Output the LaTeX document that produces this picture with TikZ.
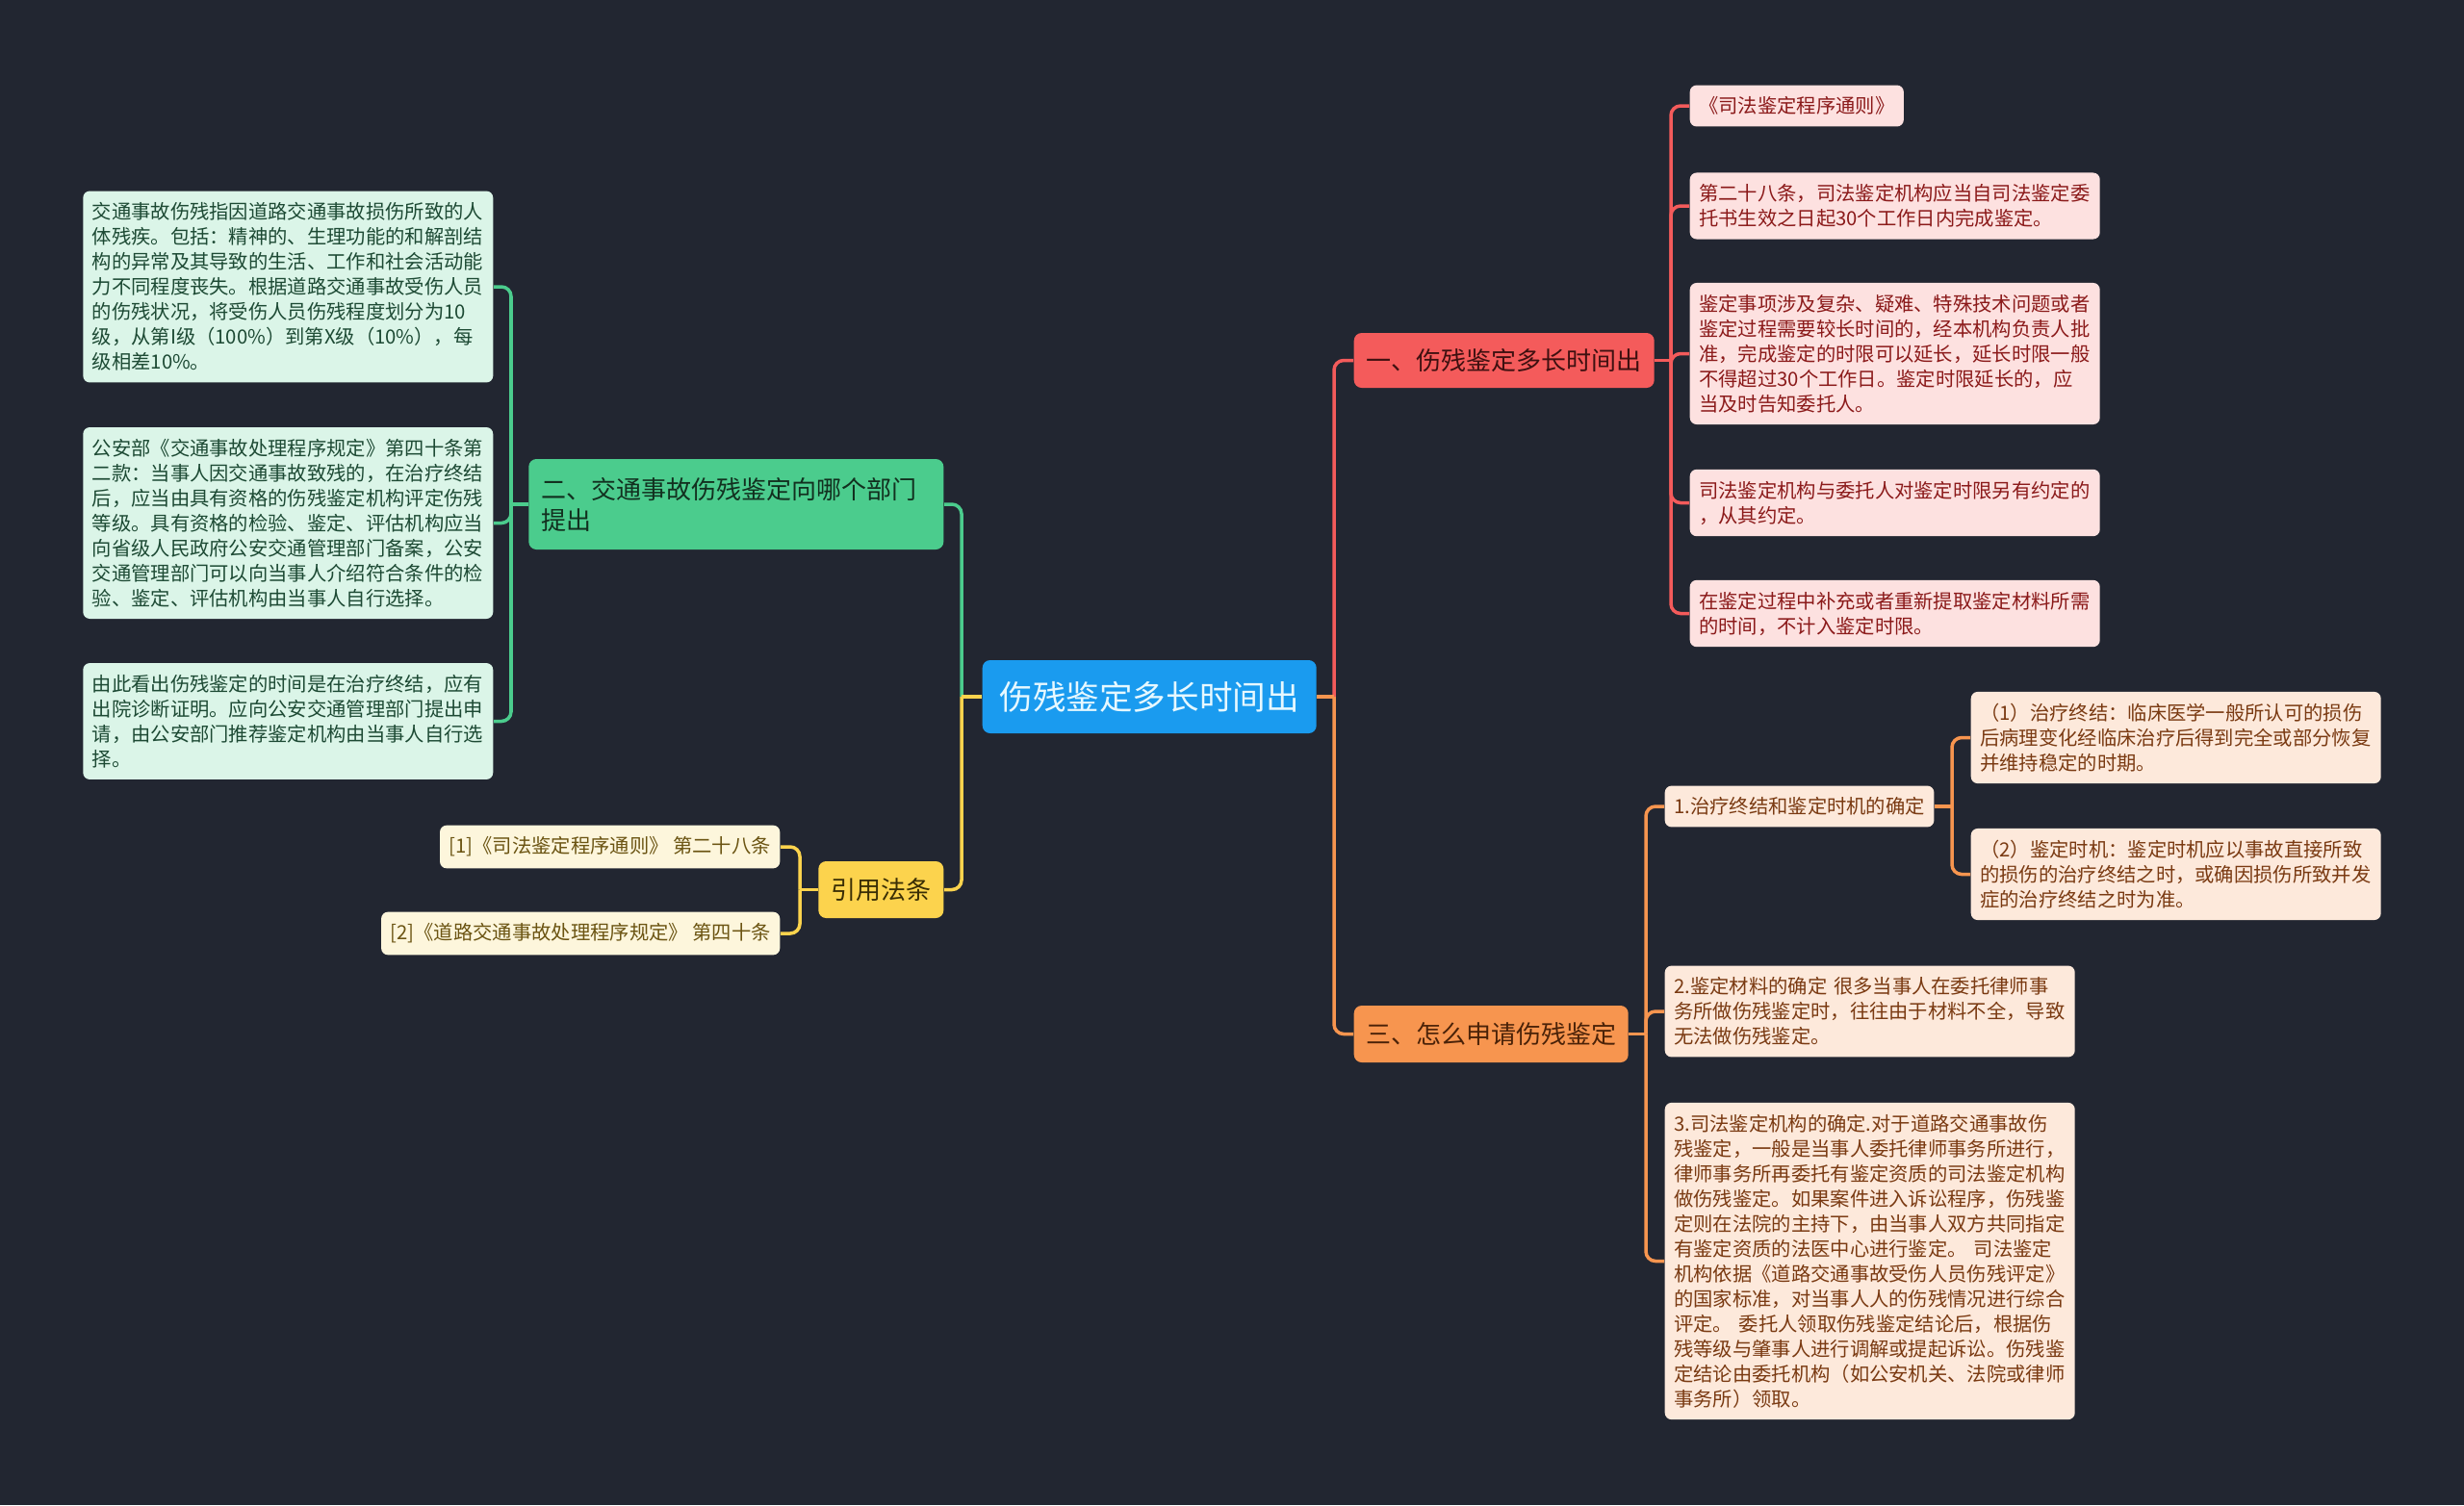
\documentclass[tikz,border=0pt]{standalone}
\usepackage{fontspec}
\setmainfont{Noto Sans CJK SC}
\usetikzlibrary{positioning}

\definecolor{bgnavy}{HTML}{222631}
\definecolor{rootblue}{HTML}{1A9BEF}
\definecolor{roottext}{HTML}{E6F8FF}
\definecolor{redbr}{HTML}{F45B5B}
\definecolor{redbrtext}{HTML}{3E1010}
\definecolor{redleaf}{HTML}{FDE1E0}
\definecolor{redtext}{HTML}{8B1A1A}
\definecolor{greenbr}{HTML}{4BCC8D}
\definecolor{greenbrtext}{HTML}{12301F}
\definecolor{greenleaf}{HTML}{DBF5E8}
\definecolor{greentext}{HTML}{1D4A34}
\definecolor{yellowbr}{HTML}{FCD34D}
\definecolor{yellowbrtext}{HTML}{3A2E05}
\definecolor{yellowleaf}{HTML}{FDF6DC}
\definecolor{yellowtext}{HTML}{6B5412}
\definecolor{orangebr}{HTML}{F7954F}
\definecolor{orangebrtext}{HTML}{4A2208}
\definecolor{orangeleaf}{HTML}{FDE9DB}
\definecolor{orangetext}{HTML}{7A3A12}

\begin{document}
\begin{tikzpicture}[
    branch/.style={rectangle, rounded corners=0.08cm, inner sep=0pt, font=\fontsize{7.4pt}{9.1pt}\selectfont},
    leafbox/.style={rectangle, rounded corners=0.07cm, inner xsep=0.095cm, inner ysep=0.12cm, align=left, font=\fontsize{5.78pt}{7.4pt}\selectfont},
    longleaf/.style={leafbox, text width=4.07cm},
    link/.style={line width=1pt, rounded corners=0.1cm}
]
\fill[bgnavy] (0,0) rectangle (25.6,-15.64);

\node[branch, fill=rootblue, text=roottext, minimum width=3.47cm, minimum height=0.76cm, font=\fontsize{9.84pt}{11pt}\selectfont, anchor=west] (root) at (10.20,-7.24) {伤残鉴定多长时间出};

\node[branch, fill=redbr, text=redbrtext, minimum width=3.12cm, minimum height=0.57cm, anchor=west] (b1) at (14.06,-3.745) {一、伤残鉴定多长时间出};
\node[branch, fill=greenbr, text=greenbrtext, minimum width=4.31cm, minimum height=0.94cm, text width=4.05cm, align=left, anchor=east] (b2) at (9.81,-5.24) {二、交通事故伤残鉴定向哪个部门\\提出};
\node[branch, fill=orangebr, text=orangebrtext, minimum width=2.85cm, minimum height=0.59cm, anchor=west] (b3) at (14.06,-10.745) {三、怎么申请伤残鉴定};
\node[branch, fill=yellowbr, text=yellowbrtext, minimum width=1.30cm, minimum height=0.59cm, anchor=east] (b4) at (9.81,-9.245) {引用法条};

\node[leafbox, fill=redleaf, text=redtext, anchor=west] (r1) at (17.55,-1.10) {《司法鉴定程序通则》};
\node[longleaf, fill=redleaf, text=redtext, anchor=west] (r2) at (17.55,-2.14) {第二十八条，司法鉴定机构应当自司法鉴定委\\托书生效之日起30个工作日内完成鉴定。};
\node[longleaf, fill=redleaf, text=redtext, anchor=west] (r3) at (17.55,-3.675) {鉴定事项涉及复杂、疑难、特殊技术问题或者\\鉴定过程需要较长时间的，经本机构负责人批\\准，完成鉴定的时限可以延长，延长时限一般\\不得超过30个工作日。鉴定时限延长的，应\\当及时告知委托人。};
\node[longleaf, fill=redleaf, text=redtext, anchor=west] (r4) at (17.55,-5.225) {司法鉴定机构与委托人对鉴定时限另有约定的\\，从其约定。};
\node[longleaf, fill=redleaf, text=redtext, anchor=west] (r5) at (17.55,-6.375) {在鉴定过程中补充或者重新提取鉴定材料所需\\的时间，不计入鉴定时限。};

\node[longleaf, fill=greenleaf, text=greentext, anchor=east] (g1) at (5.13,-2.98) {交通事故伤残指因道路交通事故损伤所致的人\\体残疾。包括：精神的、生理功能的和解剖结\\构的异常及其导致的生活、工作和社会活动能\\力不同程度丧失。根据道路交通事故受伤人员\\的伤残状况，将受伤人员伤残程度划分为10\\级，从第I级（100\%）到第X级（10\%），每\\级相差10\%。};
\node[longleaf, fill=greenleaf, text=greentext, anchor=east] (g2) at (5.13,-5.435) {公安部《交通事故处理程序规定》第四十条第\\二款：当事人因交通事故致残的，在治疗终结\\后，应当由具有资格的伤残鉴定机构评定伤残\\等级。具有资格的检验、鉴定、评估机构应当\\向省级人民政府公安交通管理部门备案，公安\\交通管理部门可以向当事人介绍符合条件的检\\验、鉴定、评估机构由当事人自行选择。};
\node[longleaf, fill=greenleaf, text=greentext, anchor=east] (g3) at (5.13,-7.495) {由此看出伤残鉴定的时间是在治疗终结，应有\\出院诊断证明。应向公安交通管理部门提出申\\请，由公安部门推荐鉴定机构由当事人自行选\\择。};

\node[leafbox, fill=yellowleaf, text=yellowtext, anchor=east] (y1) at (8.11,-8.80) {[1]《司法鉴定程序通则》 第二十八条};
\node[leafbox, fill=yellowleaf, text=yellowtext, anchor=east] (y2) at (8.11,-9.70) {[2]《道路交通事故处理程序规定》 第四十条};

\node[leafbox, fill=orangeleaf, text=orangetext, anchor=west] (o1) at (17.29,-8.38) {1.治疗终结和鉴定时机的确定};
\node[longleaf, fill=orangeleaf, text=orangetext, anchor=west] (o2) at (17.29,-10.51) {2.鉴定材料的确定 很多当事人在委托律师事\\务所做伤残鉴定时，往往由于材料不全，导致\\无法做伤残鉴定。};
\node[longleaf, fill=orangeleaf, text=orangetext, anchor=west] (o3) at (17.29,-13.105) {3.司法鉴定机构的确定.对于道路交通事故伤\\残鉴定，一般是当事人委托律师事务所进行，\\律师事务所再委托有鉴定资质的司法鉴定机构\\做伤残鉴定。如果案件进入诉讼程序，伤残鉴\\定则在法院的主持下，由当事人双方共同指定\\有鉴定资质的法医中心进行鉴定。 司法鉴定\\机构依据《道路交通事故受伤人员伤残评定》\\的国家标准，对当事人人的伤残情况进行综合\\评定。 委托人领取伤残鉴定结论后，根据伤\\残等级与肇事人进行调解或提起诉讼。伤残鉴\\定结论由委托机构（如公安机关、法院或律师\\事务所）领取。};
\node[longleaf, fill=orangeleaf, text=orangetext, anchor=west] (og1) at (20.47,-7.665) {（1）治疗终结：临床医学一般所认可的损伤\\后病理变化经临床治疗后得到完全或部分恢复\\并维持稳定的时期。};
\node[longleaf, fill=orangeleaf, text=orangetext, anchor=west] (og2) at (20.47,-9.085) {（2）鉴定时机：鉴定时机应以事故直接所致\\的损伤的治疗终结之时，或确因损伤所致并发\\症的治疗终结之时为准。};

\coordinate (rootR) at (13.86,-7.24);
\coordinate (rootL) at (9.99,-7.24);
\coordinate (b1j) at (17.36,-3.745);
\coordinate (b2j) at (5.31,-5.24);
\coordinate (b3j) at (17.10,-10.745);
\coordinate (b4j) at (8.31,-9.245);
\coordinate (o1j) at (20.28,-8.38);

\draw[link, redbr] (rootR) |- (b1.west);
\draw[link, orangebr] (rootR) |- (b3.west);
\draw[link, orangebr] (root.east) -- (rootR);
\draw[link, greenbr] (rootL) |- (b2.east);
\draw[link, yellowbr] (rootL) |- (b4.east);
\draw[link, yellowbr] (root.west) -- (rootL);

\draw[link, redbr] (b1.east) -- (b1j);
\draw[link, redbr] (b1j) |- (r1.west);
\draw[link, redbr] (b1j) |- (r2.west);
\draw[link, redbr] (b1j) |- (r3.west);
\draw[link, redbr] (b1j) |- (r4.west);
\draw[link, redbr] (b1j) |- (r5.west);

\draw[link, greenbr] (b2.west) -- (b2j);
\draw[link, greenbr] (b2j) |- (g1.east);
\draw[link, greenbr] (b2j) |- (g2.east);
\draw[link, greenbr] (b2j) |- (g3.east);

\draw[link, yellowbr] (b4.west) -- (b4j);
\draw[link, yellowbr] (b4j) |- (y1.east);
\draw[link, yellowbr] (b4j) |- (y2.east);

\draw[link, orangebr] (b3.east) -- (b3j);
\draw[link, orangebr] (b3j) |- (o1.west);
\draw[link, orangebr] (b3j) |- (o2.west);
\draw[link, orangebr] (b3j) |- (o3.west);

\draw[link, orangebr] (o1.east) -- (o1j);
\draw[link, orangebr] (o1j) |- (og1.west);
\draw[link, orangebr] (o1j) |- (og2.west);
\end{tikzpicture}
\end{document}
